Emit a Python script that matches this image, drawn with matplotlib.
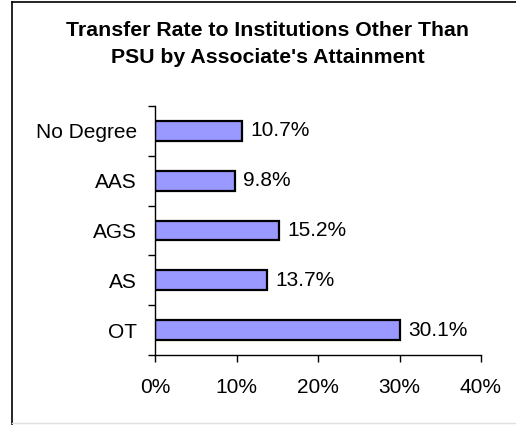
import matplotlib
matplotlib.use("Agg")
import matplotlib.pyplot as plt
from matplotlib.lines import Line2D
from matplotlib.ticker import FuncFormatter, FixedLocator

categories = ["No Degree", "AAS", "AGS", "AS", "OT"]
values = [10.7, 9.8, 15.2, 13.7, 30.1]
x_ticks = [0, 10, 20, 30, 40]
title = "Transfer Rate to Institutions Other Than\nPSU by Associate's Attainment"

plt.rcParams['font.family'] = ['Liberation Sans', 'DejaVu Sans']

fig = plt.figure(figsize=(5.16, 4.25), dpi=100)
fig.patch.set_facecolor('white')
ax = fig.add_axes([155/516, (425-355)/425, (481-155)/516, (355-106)/425])

ypos = list(range(len(categories)))
ax.barh(ypos, values, height=0.4, color='#9999FF', edgecolor='black', linewidth=1.6)
ax.set_ylim(len(categories)-0.5, -0.5)
ax.set_xlim(0, 40)

for y, v in zip(ypos, values):
    ax.annotate(f"{v:.1f}%", (v, y), xytext=(6, 0), textcoords='offset points',
                va='center', ha='left', fontsize=15)

ax.set_yticks(ypos)
ax.set_yticklabels(categories, fontsize=15)
ax.tick_params(axis='y', which='major', length=0, pad=13)
ax.yaxis.set_minor_locator(FixedLocator([i - 0.5 for i in range(len(categories)+1)]))
ax.tick_params(axis='y', which='minor', length=5, width=1, direction='out')

ax.set_xticks(x_ticks)
ax.xaxis.set_major_formatter(FuncFormatter(lambda v, p: f"{int(v)}%"))
ax.tick_params(axis='x', length=5, width=1, direction='out', pad=11.5, labelsize=15)

for s in ['top', 'right']:
    ax.spines[s].set_visible(False)
for s in ['left', 'bottom']:
    ax.spines[s].set_linewidth(1)

fig.text(268/516, 1 - 44/425, title, ha='center', va='center', fontsize=15.3,
         fontweight='bold', linespacing=1.55)

# outer frame
fig.add_artist(Line2D([12/516, 12/516], [0, 1 - 2/425], color='black', lw=1.2, transform=fig.transFigure))
fig.add_artist(Line2D([12/516, 1], [1 - 2/425, 1 - 2/425], color='black', lw=1.2, transform=fig.transFigure))
fig.add_artist(Line2D([12/516, 1], [2/425, 2/425], color='#e0e0e0', lw=1, transform=fig.transFigure))

fig.savefig("out.png", dpi=100, facecolor='white')
